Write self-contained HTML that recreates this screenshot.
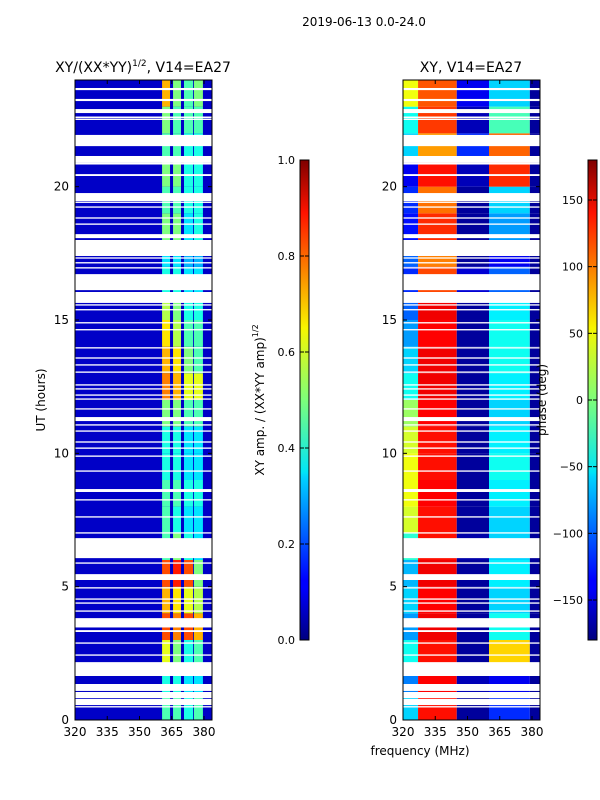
<!DOCTYPE html>
<html><head><meta charset="utf-8"><style>
body{margin:0;background:#fff;}
svg{display:block;font-family:"DejaVu Sans","Liberation Sans",sans-serif;}
</style></head><body>
<svg id="chart" width="600" height="800" xmlns="http://www.w3.org/2000/svg">
<defs>
<linearGradient id="jet" x1="0" y1="1" x2="0" y2="0">
<stop offset="0" stop-color="#00007f"/><stop offset="0.11" stop-color="#0000ff"/><stop offset="0.125" stop-color="#0000ff"/>
<stop offset="0.34" stop-color="#00d4ff"/><stop offset="0.35" stop-color="#00e5f7"/><stop offset="0.5" stop-color="#7dff7a"/>
<stop offset="0.65" stop-color="#f7f500"/><stop offset="0.89" stop-color="#ff1300"/><stop offset="1" stop-color="#7f0000"/>
</linearGradient>
</defs>
<text x="364" y="26" font-size="12" text-anchor="middle">2019-06-13 0.0-24.0</text>
<text x="143" y="72" font-size="14" text-anchor="middle">XY/(XX*YY)<tspan font-size="9" dy="-6">1/2</tspan><tspan dy="6">, V14=EA27</tspan></text>
<text x="471" y="72" font-size="14" text-anchor="middle">XY, V14=EA27</text>
<g id="left"></g>
<g id="right"></g>
<g id="axes"></g>
<text transform="translate(45,400) rotate(-90)" font-size="12" text-anchor="middle">UT (hours)</text>
<text x="420" y="755" font-size="12" text-anchor="middle">frequency (MHz)</text>
<rect x="300" y="160" width="9" height="480" fill="url(#jet)" stroke="#000" stroke-width="1"/>
<rect x="588" y="160" width="9" height="480" fill="url(#jet)" stroke="#000" stroke-width="1"/>
<text transform="translate(264,400) rotate(-90)" font-size="12" text-anchor="middle">XY amp. / (XX*YY amp)<tspan font-size="8" dy="-6">1/2</tspan></text>
<text transform="translate(546,400) rotate(-90)" font-size="12" text-anchor="middle">phase (deg)</text>
<g id="cb"></g>
</svg>
<script>
const NS="http://www.w3.org/2000/svg";
const gapLow=[23.62,23.21,22.76,22.57,22.50,21.52,20.89,20.83,20.40,19.46,19.39,19.21,18.80,18.57,18.07,17.40,17.30,17.12,16.93,16.12,15.64,15.54,15.36,14.87,14.61,13.93,13.55,13.29,13.02,12.54,12.39,12.16,12.01,11.64,11.21,11.04,10.81,10.40,10.17,9.87,9.31,8.55,8.23,7.59,6.99,6.07,5.86,5.25,4.93,4.51,4.36,4.06,3.47,3.30,2.86,2.41,1.65,1.09,0.82,0.56,0.47];
const gapHigh=[23.70,23.29,22.91,22.63,22.55,21.94,21.15,20.89,20.47,19.76,19.44,19.26,18.85,18.62,18.22,18.00,17.35,17.17,16.98,16.72,16.05,15.59,15.41,14.92,14.66,13.98,13.60,13.34,13.07,12.59,12.44,12.21,12.06,11.69,11.36,11.09,10.86,10.45,10.22,9.92,9.36,8.66,8.28,7.64,7.04,6.82,5.91,5.47,4.98,4.56,4.41,4.11,3.82,3.37,2.91,2.46,2.17,1.35,1.05,0.79,0.52];
const bandLo=[360.5,365.6,370.7,375.3];
const bandHi=[364.2,369.3,374.9,379.5];
const amp1=[0.45,0.4,0.6,0.8,0.7,0.8,0.45,0.45,0.45,0.4,0.4,0.5,0.75,0.7,0.65,0.55,0.4,0.35,0.5,0.45,0.5,0.45,0.5,0.7];
const amp2=[0.45,0.4,0.5,0.75,0.65,0.85,0.5,0.4,0.45,0.4,0.4,0.5,0.7,0.65,0.55,0.5,0.4,0.35,0.5,0.45,0.5,0.45,0.45,0.5];
const amp3=[0.4,0.35,0.4,0.8,0.6,0.8,0.4,0.35,0.4,0.35,0.35,0.45,0.6,0.5,0.45,0.4,0.35,0.3,0.35,0.4,0.4,0.4,0.45,0.45];
const amp4=[0.45,0.35,0.45,0.7,0.55,0.5,0.35,0.35,0.4,0.35,0.35,0.45,0.6,0.45,0.45,0.4,0.35,0.3,0.4,0.4,0.4,0.4,0.45,0.5];
const ampBase=0.07;
const segLo=[320,327,345,360,379];
const segHi=[327,345,360,379,384];
const phaseA=[-60,-90,-40,-80,-60,-70,-30,30,40,40,30,10,-40,-60,-80,-100,-120,-100,-130,-120,-140,-60,-40,40];
const phaseB=[130,135,130,140,135,140,130,130,135,130,130,135,140,140,135,140,110,90,120,95,130,80,115,105];
const phaseC=[-170,-160,-170,-170,-170,-170,-165,-170,-170,-170,-170,-170,-170,-170,-170,-170,-150,-170,-170,-170,-160,-120,-160,-140];
const phaseD=[-120,-140,60,-40,-60,-50,-60,-60,-50,-40,-50,-60,-50,-40,-40,-50,-100,-140,-80,-60,120,100,-20,-60];
const phaseE=[-170,-170,-170,-170,-170,-170,-170,-170,-170,-170,-170,-170,-170,-170,-170,-170,-170,-170,-170,-170,-170,-170,-170,-170];
const yTicks=[0,5,10,15,20];
const xTicks=[320,335,350,365,380];
const ampTicks=[0.0,0.2,0.4,0.6,0.8,1.0];
const phTicks=[-150,-100,-50,0,50,100,150];

function jet(v){v=Math.max(0,Math.min(1,v));
 const r=Math.max(0,Math.min(1,1.5-Math.abs(4*v-3))),g=Math.max(0,Math.min(1,1.5-Math.abs(4*v-2))),b=Math.max(0,Math.min(1,1.5-Math.abs(4*v-1)));
 return `rgb(${Math.round(r*255)},${Math.round(g*255)},${Math.round(b*255)})`;}
const yS=h=>720-h*26.667;
const xL=f=>75+(f-320)*2.15;
const xR=f=>403+(f-320)*2.15;
function rect(g,x,y,w,h,fill){const r=document.createElementNS(NS,'rect');r.setAttribute('x',x);r.setAttribute('y',y);r.setAttribute('width',w);r.setAttribute('height',h);r.setAttribute('fill',fill);g.appendChild(r);return r;}
const L=document.getElementById('left'),R=document.getElementById('right');
const amps=[amp1,amp2,amp3,amp4], phs=[phaseA,phaseB,phaseC,phaseD,phaseE];
rect(L,75,80,137,640,jet(ampBase));
for(let h=0;h<24;h++){
 for(let b=0;b<4;b++){
  const r=rect(L,xL(bandLo[b]),yS(h+1),xL(bandHi[b])-xL(bandLo[b]),26.667,jet(amps[b][h]));
  
  
 }
 for(let s=0;s<5;s++){
  const x0=Math.max(403,xR(segLo[s])),x1=Math.min(540,xR(segHi[s]));
  const r=rect(R,x0,yS(h+1),x1-x0,26.667,jet((phs[s][h]+180)/360));
  
  
 }
}
for(let i=0;i<gapLow.length;i++){
 [[L,75],[R,403]].forEach(([g,x])=>{
  const r=rect(g,x,yS(gapHigh[i]),137,Math.max(1.3,(gapHigh[i]-gapLow[i])*26.667),'#fff');
  
  
 });
}
const A=document.getElementById('axes');
function line(g,x1,y1,x2,y2){const l=document.createElementNS(NS,'line');l.setAttribute('x1',x1);l.setAttribute('y1',y1);l.setAttribute('x2',x2);l.setAttribute('y2',y2);l.setAttribute('stroke','#000');g.appendChild(l);return l;}
function txt(g,x,y,s,anchor){const t=document.createElementNS(NS,'text');t.setAttribute('x',x);t.setAttribute('y',y);t.setAttribute('font-size','12');t.setAttribute('text-anchor',anchor);t.textContent=s;g.appendChild(t);return t;}
[75,403].forEach(x0=>{
 const f=document.createElementNS(NS,'rect');f.setAttribute('x',x0);f.setAttribute('y',80);f.setAttribute('width',137);f.setAttribute('height',640);f.setAttribute('fill','none');f.setAttribute('stroke','#000');A.appendChild(f);
 
 
 yTicks.forEach(v=>{const y=yS(v);line(A,x0,y,x0+4,y);line(A,x0+137,y,x0+133,y);
  const t=txt(A,x0-6,y+4,String(v),'end');
  
  });
 xTicks.forEach(v=>{const x=x0+(v-320)*2.15;line(A,x,720,x,716);line(A,x,80,x,84);
  const t=txt(A,x,736,String(v),'middle');
  
  });
});
const C=document.getElementById('cb');
ampTicks.forEach(v=>{const y=640-v*480;line(C,300,y,304,y);line(C,309,y,305,y);
 const t=txt(C,295,y+4,v.toFixed(1),'end');
 t.setAttribute('font-size','11');
 
 });
phTicks.forEach(v=>{const y=640-(v+180)/360*480;line(C,588,y,592,y);line(C,597,y,593,y);
 const t=txt(C,583,y+4,v<0?'\u2212'+(-v):String(v),'end');
 t.setAttribute('font-size','11');
 
 });
</script>
</body></html>
